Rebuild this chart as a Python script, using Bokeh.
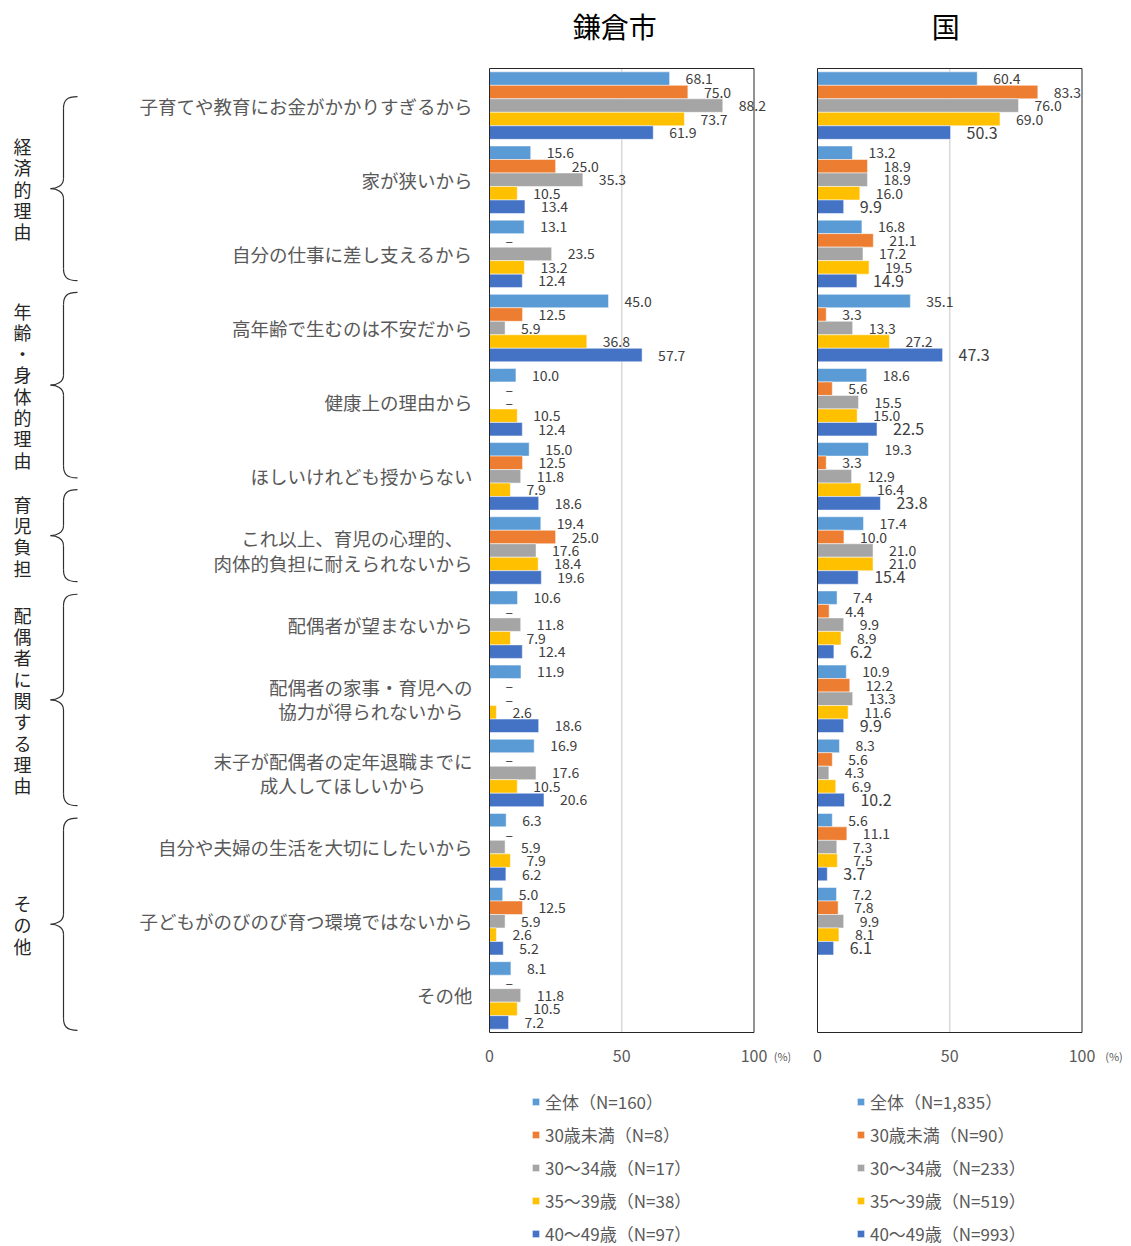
from bokeh.plotting import figure
from bokeh.models import (Range1d, FixedTicker, ColumnDataSource, LabelSet,
                          Legend, LegendItem)
from bokeh.transform import dodge
from bokeh.layouts import row
from bokeh.embed import file_html
from bokeh.resources import INLINE
from bokeh.core.properties import value

# ---------------- data ----------------
categories = [
    "子育てや教育にお金がかかりすぎるから",
    "家が狭いから",
    "自分の仕事に差し支えるから",
    "高年齢で生むのは不安だから",
    "健康上の理由から",
    "ほしいけれども授からない",
    "これ以上、育児の心理的、\u2002\n肉体的負担に耐えられないから",
    "配偶者が望まないから",
    "配偶者の家事・育児への\n協力が得られないから\u2002",
    "末子が配偶者の定年退職までに\n成人してほしいから\u3000\u3000\u2002",
    "自分や夫婦の生活を大切にしたいから",
    "子どもがのびのび育つ環境ではないから",
    "その他",
]

group_names = ["経済的理由", "年齢・身体的理由", "育児負担", "配偶者に関する理由", "その他"]
group_sizes = [3, 3, 1, 3, 3]

kamakura_series = ["全体（N=160）", "30歳未満（N=8）", "30～34歳（N=17）",
                   "35～39歳（N=38）", "40～49歳（N=97）"]
country_series = ["全体（N=1,835）", "30歳未満（N=90）", "30～34歳（N=233）",
                  "35～39歳（N=519）", "40～49歳（N=993）"]

# Kamakura (None = "–")
k_all   = [68.1, 15.6, 13.1, 45.0, 10.0, 15.0, 19.4, 10.6, 11.9, 16.9, 6.3, 5.0, 8.1]
k_u30   = [75.0, 25.0, None, 12.5, None, 12.5, 25.0, None, None, None, None, 12.5, None]
k_30_34 = [88.2, 35.3, 23.5, 5.9, None, 11.8, 17.6, 11.8, None, 17.6, 5.9, 5.9, 11.8]
k_35_39 = [73.7, 10.5, 13.2, 36.8, 10.5, 7.9, 18.4, 7.9, 2.6, 10.5, 7.9, 2.6, 10.5]
k_40_49 = [61.9, 13.4, 12.4, 57.7, 12.4, 18.6, 19.6, 12.4, 18.6, 20.6, 6.2, 5.2, 7.2]

# Country (no "その他" row)
c_all   = [60.4, 13.2, 16.8, 35.1, 18.6, 19.3, 17.4, 7.4, 10.9, 8.3, 5.6, 7.2]
c_u30   = [83.3, 18.9, 21.1, 3.3, 5.6, 3.3, 10.0, 4.4, 12.2, 5.6, 11.1, 7.8]
c_30_34 = [76.0, 18.9, 17.2, 13.3, 15.5, 12.9, 21.0, 9.9, 13.3, 4.3, 7.3, 9.9]
c_35_39 = [69.0, 16.0, 19.5, 27.2, 15.0, 16.4, 21.0, 8.9, 11.6, 6.9, 7.5, 8.1]
c_40_49 = [50.3, 9.9, 14.9, 47.3, 22.5, 23.8, 15.4, 6.2, 9.9, 10.2, 3.7, 6.1]

x_ticks = [0, 50, 100]
x_grid = [50]
x_max = 100

# ---------------- style / layout ----------------
COLORS = ["#5B9BD5", "#ED7D31", "#A5A5A5", "#FFC000", "#4472C4"]
FONT = "Noto Sans CJK JP"
H = 1246
NCAT = len(categories)
PPU = 964 / NCAT            # pixels per category band
BOX_TOP_PX = 68             # canvas y of the plot box top
Y_TOP = NCAT + BOX_TOP_PX / PPU
Y_BOT = -(H - BOX_TOP_PX - 964) / PPU
PXX = 2.645                 # pixels per percent
XPAD = 10 / PXX
BAR_H = 0.182
OFFSETS = [2 * BAR_H, BAR_H, 0.0, -BAR_H, -2 * BAR_H]
TICK_Y = -23 / PPU          # row of the x tick labels, under the box
TITLE_Y = NCAT + 43 / PPU   # title row, above the box
BRACE_SPANS = [(0.38, 2.86), (3.02, 5.52), (5.68, 6.92), (7.09, 9.94), (10.11, 12.97)]

# numeric centre of each category band (top category highest)
cat_y = [NCAT - (k + 0.5) for k in range(NCAT)]


def make_panel(title, series_names, series_vals, width, left, right,
               show_cats, last_font, pct_px, title_dx, legend_x):
    frame_w = width - left - right
    p = figure(width=width, height=H,
               y_range=Range1d(Y_BOT, Y_TOP),
               x_range=Range1d(-XPAD, -XPAD + frame_w / PXX),
               min_border_left=left, min_border_right=right,
               min_border_top=0, min_border_bottom=0,
               output_backend="svg", toolbar_location=None)
    p.outline_line_color = None
    p.background_fill_color = "white"
    p.grid.visible = False
    p.xaxis.visible = False

    ya = p.yaxis[0]
    if show_cats:
        ya.ticker = FixedTicker(ticks=cat_y)
        ya.major_label_overrides = {y: c for y, c in zip(cat_y, categories)}
        ya.axis_line_color = None
        ya.major_tick_line_color = None
        ya.minor_tick_line_color = None
        ya.major_label_standoff = 1
        ya.major_label_text_font = FONT
        ya.major_label_text_font_size = "18.5px"
        ya.major_label_text_color = "#595959"
        ya.major_label_text_line_height = 0.93
    else:
        ya.visible = False

    # title
    p.text(x=[x_max / 2], y=[TITLE_Y], text=[title], x_offset=title_dx,
           text_align="center", text_baseline="middle", text_font=value(FONT),
           text_font_size="28px", text_color="#000000")

    # gridline at 50
    p.segment(x0=x_grid, y0=[0] * len(x_grid), x1=x_grid, y1=[NCAT] * len(x_grid),
              line_color="#d9d9d9", line_width=1.5)

    n = len(series_vals[0])
    items = []
    for i, (name, vals) in enumerate(zip(series_names, series_vals)):
        bar_vals = [float("nan") if v is None else v for v in vals]
        lab_pos = [0.0 if v is None else v for v in vals]
        txt = ["–" if v is None else f"{v:.1f}" for v in vals]
        src = ColumnDataSource(dict(yc=cat_y[:n], val=bar_vals, pos=lab_pos, txt=txt))
        yd = dodge("yc", OFFSETS[i])
        r = p.hbar(y=yd, right="val", left=0, height=BAR_H, source=src,
                   fill_color=COLORS[i], line_color="white", line_width=0.5)
        items.append(LegendItem(label=name, renderers=[r]))
        fs = last_font if i == 4 else "14px"
        ls = LabelSet(x="pos", y=yd, text="txt", source=src, x_offset=16,
                      text_align="left", text_baseline="middle",
                      text_font=value(FONT), text_font_size=fs,
                      text_color="#404040")
        p.add_layout(ls)

    # plot-area box
    p.quad(left=[0], right=[x_max], bottom=[0], top=[NCAT], fill_alpha=0,
           line_color="#262626", line_width=1)

    # x tick labels and unit
    p.text(x=x_ticks, y=[TICK_Y] * len(x_ticks), text=[str(t) for t in x_ticks],
           text_align="center", text_baseline="middle", text_font=value(FONT),
           text_font_size="16px", text_color="#595959")
    p.text(x=[x_max], y=[TICK_Y], text=["(%)"], x_offset=pct_px,
           text_align="center", text_baseline="middle", text_font=value(FONT),
           text_font_size="11px", text_color="#595959")

    legend = Legend(items=items, location=(legend_x, 0))
    legend.label_text_font = FONT
    legend.label_text_font_size = "17px"
    legend.label_text_color = "#595959"
    legend.glyph_width = 9
    legend.glyph_height = 9
    legend.label_standoff = 5
    legend.label_height = 20
    legend.spacing = 8
    legend.padding = 0
    legend.margin = 0
    legend.border_line_color = None
    legend.background_fill_alpha = 0
    p.add_layout(legend, "center")
    return p


# ---------------- brace / group panel ----------------
pb = figure(width=120, height=H, x_range=Range1d(0, 120),
            y_range=Range1d(Y_BOT, Y_TOP), min_border_left=0,
            min_border_right=0, min_border_top=0, min_border_bottom=0,
            output_backend="svg", toolbar_location=None)
pb.axis.visible = False
pb.grid.visible = False
pb.outline_line_color = None


def yu(u_top, dpx=0.0):
    """category units from top (+ pixel offset downwards) -> data y"""
    return NCAT - u_top - dpx / PPU


bx0, by0, bx1, by1, cx0, cy0, cx1, cy1 = [], [], [], [], [], [], [], []
sx0, sy0, sx1, sy1 = [], [], [], []
gx, gy, gt = [], [], []
for name, (ut, ub) in zip(group_names, BRACE_SPANS):
    um = (ut + ub) / 2
    bx0.append(77); by0.append(yu(ut)); bx1.append(63); by1.append(yu(ut, 12))
    cx0.append(66); cy0.append(yu(ut)); cx1.append(63); cy1.append(yu(ut, 4))
    bx0.append(63); by0.append(yu(um, -10)); bx1.append(50); by1.append(yu(um))
    cx0.append(63); cy0.append(yu(um, -3)); cx1.append(56); cy1.append(yu(um))
    bx0.append(50); by0.append(yu(um)); bx1.append(63); by1.append(yu(um, 10))
    cx0.append(56); cy0.append(yu(um)); cx1.append(63); cy1.append(yu(um, 3))
    bx0.append(63); by0.append(yu(ub, -12)); bx1.append(77); by1.append(yu(ub))
    cx0.append(63); cy0.append(yu(ub, -4)); cx1.append(66); cy1.append(yu(ub))
    sx0 += [63, 63]; sy0 += [yu(ut, 12), yu(um, 10)]
    sx1 += [63, 63]; sy1 += [yu(um, -10), yu(ub, -12)]
    gx.append(22); gy.append(yu(um)); gt.append("\n".join(list(name)))

pb.bezier(x0=bx0, y0=by0, x1=bx1, y1=by1, cx0=cx0, cy0=cy0, cx1=cx1, cy1=cy1,
          line_color="#303030", line_width=1.2)
pb.segment(x0=sx0, y0=sy0, x1=sx1, y1=sy1, line_color="#303030", line_width=1.2)
pb.text(x=gx, y=gy, text=gt, text_align="center", text_baseline="middle",
        text_font=value(FONT), text_font_size="18px", text_color="#262626",
        text_line_height=0.82)

p1 = make_panel("鎌倉市", kamakura_series,
                [k_all, k_u30, k_30_34, k_35_39, k_40_49],
                width=680, left=359, right=10, show_cats=True,
                last_font="14px", pct_px=28.5, title_dx=-7, legend_x=52)
p2 = make_panel("国", country_series,
                [c_all, c_u30, c_30_34, c_35_39, c_40_49],
                width=331, left=7, right=0, show_cats=False,
                last_font="16px", pct_px=32, title_dx=-4, legend_x=49)

layout = row(pb, p1, p2)
open("out.html", "w").write(file_html(layout, INLINE))
